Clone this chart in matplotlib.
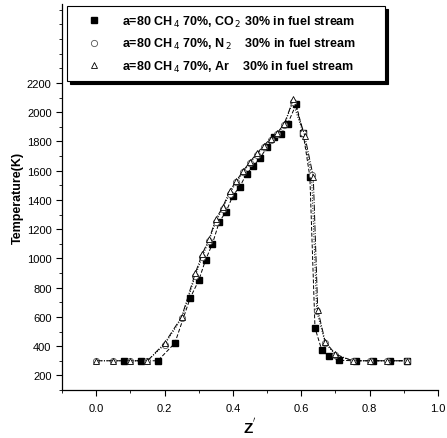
import matplotlib
matplotlib.use("Agg")
import matplotlib.pyplot as plt
from matplotlib.ticker import MultipleLocator, FixedLocator

plt.rcParams['font.family'] = ['Liberation Sans', 'DejaVu Sans']

# CH4 70% + CO2 30% in fuel stream
z_co2 = [0.08, 0.13, 0.18, 0.23, 0.275, 0.30, 0.32, 0.34, 0.36, 0.38, 0.40, 0.42,
         0.44, 0.46, 0.48, 0.50, 0.52, 0.54, 0.56, 0.585, 0.605, 0.625, 0.64, 0.66,
         0.68, 0.71, 0.76, 0.81, 0.86, 0.91]
t_co2 = [300, 300, 300, 420, 730, 850, 990, 1100, 1250, 1320, 1430, 1490,
         1580, 1630, 1690, 1760, 1830, 1850, 1920, 2055, 1860, 1560, 525, 372,
         333, 303, 300, 300, 300, 300]

# CH4 70% + N2 30% in fuel stream
z_n2 = [0.0, 0.05, 0.10, 0.15, 0.20, 0.25, 0.29, 0.31, 0.33, 0.35, 0.37, 0.39,
        0.41, 0.43, 0.45, 0.47, 0.49, 0.51, 0.53, 0.55, 0.575, 0.605, 0.63, 0.645,
        0.67, 0.70, 0.75, 0.80, 0.85, 0.91]
t_n2 = [300, 300, 300, 300, 410, 590, 880, 1010, 1120, 1250, 1340, 1440,
        1520, 1590, 1650, 1710, 1760, 1810, 1850, 1910, 2070, 1860, 1570, 640,
        420, 340, 300, 300, 300, 300]

# CH4 70% + Ar 30% in fuel stream
z_ar = [0.0, 0.05, 0.10, 0.15, 0.20, 0.25, 0.29, 0.31, 0.33, 0.35, 0.37, 0.39,
        0.41, 0.43, 0.45, 0.47, 0.49, 0.51, 0.53, 0.55, 0.577, 0.61, 0.635, 0.648,
        0.67, 0.70, 0.75, 0.80, 0.85, 0.91]
t_ar = [300, 300, 300, 300, 420, 600, 900, 1030, 1130, 1270, 1350, 1460,
        1530, 1600, 1660, 1720, 1770, 1820, 1860, 1920, 2090, 1840, 1560, 650,
        430, 345, 300, 300, 300, 300]

labels = [r"a=80 CH$_{\,4}$ 70%, CO$_{\,2}$ 30% in fuel stream       ",
          r"a=80 CH$_{\,4}$ 70%, N$_{\,2}$    30% in fuel stream       ",
          r"a=80 CH$_{\,4}$ 70%, Ar    30% in fuel stream       "]

x_ticks = [0.0, 0.2, 0.4, 0.6, 0.8, 1.0]
x_ticklabels = ["0.0", "0.2", "0.4", "0.6", "0.8", "1.0"]
y_ticks = list(range(200, 2201, 200))

fig = plt.figure(figsize=(4.47, 4.39), dpi=100)
ax = fig.add_axes([0.1387, 0.1093, 0.8413, 0.8793])

ax.plot(z_co2, t_co2, ls=(0, (4, 2)), lw=0.7, color='black', marker='s', ms=4.2,
        mfc='black', mec='black', label=labels[0])
ax.plot(z_n2, t_n2, ls=':', lw=0.7, color='black', marker='o', ms=4.5,
        mfc='white', mec='#555555', mew=0.6, label=labels[1])
ax.plot(z_ar, t_ar, ls='-.', lw=0.7, color='black', marker='^', ms=5,
        mfc='white', mec='black', mew=0.6, label=labels[2])

ax.set_xlim(-0.1, 1.0)
ax.set_ylim(100, 2740)

ax.spines['top'].set_visible(False)
ax.spines['right'].set_visible(False)
ax.spines['left'].set_linewidth(0.9)
ax.spines['bottom'].set_linewidth(0.9)

ax.xaxis.set_major_locator(FixedLocator(x_ticks))
ax.set_xticklabels(x_ticklabels)
ax.xaxis.set_minor_locator(MultipleLocator(0.1))
ax.yaxis.set_major_locator(FixedLocator(y_ticks))
ax.yaxis.set_minor_locator(MultipleLocator(100))
ax.tick_params(which='major', direction='out', length=4, width=0.8, labelsize=8)
ax.tick_params(which='minor', direction='out', length=2, width=0.6)
ax.tick_params(axis='x', pad=5)

ax.set_ylabel("Temperature(K)", fontsize=9, fontweight='bold', labelpad=2)
ax.set_xlabel(r"Z$^{'}$", fontsize=11, fontweight='bold', labelpad=3)

leg = ax.legend(loc='upper left', bbox_to_anchor=(0.013, 0.995), fancybox=False,
                shadow={'color': 'black', 'alpha': 1.0}, edgecolor='black',
                framealpha=1.0, prop={'weight': 'bold', 'size': 9},
                handlelength=3.2, borderpad=0.6, labelspacing=0.6,
                borderaxespad=0.0, handletextpad=0.6)
for h in leg.legend_handles:
    h.set_linestyle('none')
leg.get_frame().set_linewidth(0.8)

fig.savefig("out.png", dpi=100)
